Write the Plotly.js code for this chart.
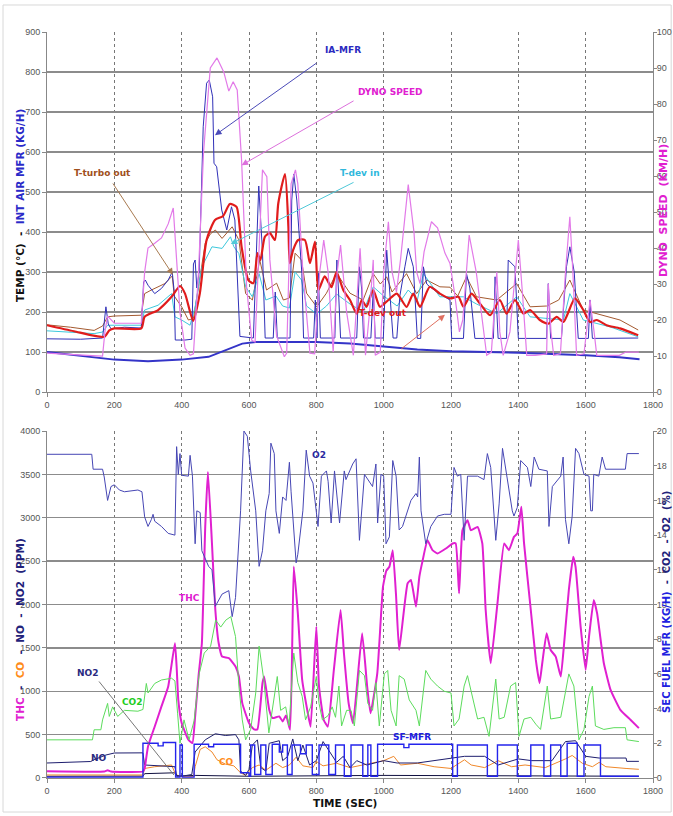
<!DOCTYPE html>
<html>
<head>
<meta charset="utf-8">
<script src="https://cdn.plot.ly/plotly-3.0.1.min.js"></script>
<style>
  html, body { margin: 0; padding: 0; background: #ffffff; }
  #chart { width: 673px; height: 816px; }
</style>
</head>
<body>
<div id="chart"></div>
<script>
// ---------- Upper panel: temperatures, intake air mass flow, dyno speed ----------
const tIAMFR = [0,100,165,170,175,182,190,230,280,287,292,300,320,340,360,372,378,381,410,430,435,440,445,452,464,474,482,492,496,504,519,534,548,558,568,573,613,620,629,640,648,672,678,684,722,727,733,742,757,762,792,797,802,806,812,855,861,866,872,920,928,935,940,962,969,975,999,1009,1018,1028,1039,1048,1063,1073,1088,1100,1110,1118,1128,1137,1167,1197,1202,1237,1246,1256,1271,1326,1331,1340,1365,1370,1390,1400,1484,1489,1496,1528,1543,1553,1566,1578,1608,1613,1620,1700,1756];
const vIAMFR = [133,132,135,180,213,170,158,162,160,275,280,267,246,259,280,300,250,130,130,132,320,330,260,300,663,772,780,738,572,563,455,405,463,430,247,139,135,300,515,350,135,135,250,135,135,480,545,480,296,135,135,230,135,297,135,135,330,250,135,135,313,255,135,135,255,135,135,355,240,135,135,240,313,359,313,134,134,313,270,263,245,230,134,134,296,260,134,134,288,134,134,330,313,134,134,271,134,134,313,363,300,134,134,230,134,135,135];

const tDyno = [0,60,120,165,172,180,190,200,240,280,290,300,320,340,360,375,385,395,410,425,435,450,465,485,505,525,540,553,565,578,593,608,618,628,640,653,662,682,705,712,725,738,745,760,781,795,810,822,835,850,862,872,890,910,922,930,940,946,958,969,975,990,1000,1014,1025,1038,1050,1073,1090,1098,1108,1120,1142,1160,1182,1197,1210,1225,1235,1254,1275,1300,1306,1320,1336,1345,1355,1375,1390,1400,1412,1425,1450,1484,1489,1497,1505,1525,1540,1553,1562,1573,1595,1613,1625,1633,1700,1720,1758];
const vDyno = [10.8,10.6,10.2,10.0,16.7,21.1,20.0,19.1,19.1,19.1,33.3,40.0,41.3,42.8,46.7,51.1,36.7,22.2,12.2,10.2,10.6,33.3,66.7,90.0,92.8,88.9,83.6,86.2,83.9,64.4,29.2,14.4,13.9,36.7,61.7,59.8,36.7,15.6,9.8,10.8,57.8,61.7,57.8,33.3,10.8,10.6,33.3,42.2,33.3,11.1,33.3,40.8,22.2,10.2,27.8,39.9,22.2,10.2,22.2,36.7,10.2,11.1,33.3,47.3,33.3,27.8,36.7,57.6,44.4,33.3,30.1,38.9,47.3,45.6,38.6,35.7,27.8,16.7,20.0,43.6,33.3,13.3,10.2,11.1,33.3,16.7,10.2,16.7,33.3,42.2,27.8,10.2,10.2,10.6,30.1,16.7,10.2,10.6,33.3,48.7,33.3,10.2,10.6,25.6,16.7,10.2,10.2,11.1,11.1];

const tTurbo = [0,70,140,165,180,200,280,290,310,350,372,378,390,400,420,435,450,470,485,500,520,540,550,570,590,610,632,652,682,702,720,737,756,771,801,830,860,900,939,969,990,1009,1025,1068,1098,1128,1167,1197,1220,1246,1276,1336,1365,1395,1435,1484,1520,1553,1593,1633,1702,1756];
const vTurbo = [168,162,154,165,188,190,192,246,255,271,290,240,225,213,180,184,263,372,395,405,384,405,413,380,246,230,330,255,272,230,235,347,330,247,213,247,297,247,230,296,270,288,250,296,246,280,263,262,240,288,238,230,250,271,213,215,230,280,205,196,180,155];

const tDevIn = [0,70,140,165,180,200,280,290,330,370,380,400,425,440,460,490,520,545,555,570,590,610,630,650,680,700,720,737,756,771,801,830,860,900,939,969,1000,1040,1073,1100,1118,1140,1167,1237,1276,1336,1395,1435,1534,1553,1593,1672,1756];
const vDevIn = [153,150,146,150,167,167,167,205,217,246,188,180,167,213,313,363,359,388,363,346,263,238,296,230,240,215,210,300,280,215,195,215,245,220,200,263,240,215,255,230,296,270,238,238,220,196,238,188,180,246,180,163,138];

const tDevOut = [0,80,170,185,200,280,290,330,370,395,410,434,454,474,499,523,543,563,578,598,613,625,634,647,662,677,687,707,717,721,731,746,766,781,796,806,825,845,860,880,900,920,935,949,969,989,1014,1039,1068,1088,1108,1137,1167,1197,1222,1237,1261,1286,1316,1345,1365,1390,1415,1435,1464,1489,1514,1534,1568,1593,1613,1633,1662,1702,1756];
const vDevOut = [167,152,138,154,159,159,188,205,238,265,246,178,247,380,430,440,470,463,363,280,272,347,330,388,397,380,472,545,413,322,355,380,380,322,376,255,289,262,300,255,230,196,230,213,255,213,230,246,213,246,213,263,246,234,238,213,246,221,192,230,196,230,196,205,180,171,188,175,234,205,175,180,167,159,142];

const tIntake = [0,100,200,300,400,480,530,580,620,800,900,1000,1100,1200,1400,1600,1700,1760];
const vIntake = [100,90,81,77,81,88,104,121,125,125,121,113,106,102,98,92,87,82];

// ---------- Lower panel: emissions and secondary fuel ----------
const tO2 = [0,133,137,165,170,180,190,200,215,230,270,282,290,300,310,315,320,340,360,380,385,390,395,400,420,425,432,440,445,455,460,470,480,490,500,520,540,550,560,575,585,595,605,620,630,640,650,660,665,675,680,690,700,710,720,725,735,740,745,760,770,780,790,800,805,815,830,835,844,854,869,883,888,908,918,928,943,967,977,982,992,1000,1007,1017,1027,1037,1046,1056,1081,1096,1101,1106,1111,1125,1140,1160,1180,1200,1209,1219,1229,1239,1249,1279,1298,1308,1318,1333,1343,1353,1363,1382,1387,1397,1407,1427,1437,1447,1461,1486,1491,1501,1526,1533,1540,1550,1560,1570,1580,1595,1610,1615,1620,1624,1639,1649,1659,1718,1723,1758];
const vO2 = [18.66,18.66,17.8,17.8,17.35,16.0,16.8,16.9,16.6,16.5,16.6,16.5,15.05,14.5,14.9,15.2,14.8,14.5,14.1,14.0,19.1,17.5,18.7,17.45,17.4,18.6,17.4,13.5,15.4,15.3,13.1,12.6,12.2,12.0,9.9,10.6,10.8,9.3,10.4,15.4,20.0,19.7,17.7,15.4,12.2,13.1,15.4,16.4,19.3,18.7,15.4,14.1,16.2,16.0,18.2,16.5,13.5,12.4,12.9,15.4,18.9,17.4,17.0,15.4,14.5,17.4,17.7,17.1,14.7,17.7,14.7,17.7,17.2,18.1,18.4,13.7,17.5,16.8,18.1,14.7,17.5,17.4,13.5,13.9,18.3,17.4,14.3,14.5,16.0,16.4,16.2,18.5,15.4,13.5,14.5,15.1,15.2,15.2,17.9,17.4,17.5,13.7,17.4,17.4,17.2,18.7,17.9,13.7,15.8,19.0,17.7,15.4,15.1,15.6,18.3,17.9,16.8,18.5,17.8,17.7,14.5,16.8,17.4,18.5,14.9,13.5,15.1,19.0,18.7,17.5,17.4,15.4,15.4,17.5,17.4,18.5,17.8,17.8,18.7,18.7];

const tCO2 = [0,135,140,160,165,180,185,195,210,230,270,285,295,300,320,340,370,380,388,395,407,422,437,452,467,486,501,516,531,546,560,570,580,590,605,620,630,644,659,669,684,694,709,719,733,745,758,768,783,800,808,818,835,847,857,867,875,890,903,913,928,943,953,967,977,987,1002,1012,1022,1037,1046,1061,1076,1096,1106,1125,1140,1160,1180,1200,1209,1224,1239,1249,1264,1279,1298,1313,1333,1343,1358,1377,1392,1402,1417,1437,1452,1466,1486,1496,1526,1540,1550,1565,1580,1595,1610,1620,1629,1654,1684,1718,1723,1758];
const vCO2 = [2.2,2.2,2.78,2.78,3.35,4.3,3.55,4.1,3.55,3.9,3.85,3.95,5.45,4.9,5.45,5.65,5.75,5.6,3.7,2.0,3.35,2.2,3.3,6.0,7.2,7.6,9.1,8.7,9.1,9.3,8.15,5.3,3.35,2.2,2.8,4.9,7.6,5.65,2.6,3.9,5.85,3.9,4.1,3.0,7.2,5.5,4.7,3.35,4.1,5.85,4.3,3.35,3.6,4.1,3.5,5.3,3.0,3.9,3.9,3.0,6.2,5.9,4.3,3.9,5.5,3.0,6.0,6.2,3.9,3.0,5.9,5.7,4.5,3.9,3.0,6.2,5.7,5.3,5.0,4.9,3.0,3.4,5.3,5.9,4.7,3.4,3.5,2.4,5.7,3.4,3.5,5.3,5.5,2.4,3.4,3.5,3.1,2.8,5.3,3.4,3.5,5.1,6.0,5.3,2.2,2.8,4.7,5.3,3.0,2.8,2.9,2.9,2.2,2.1];

const tTHC = [0,170,180,190,285,290,300,320,340,360,380,385,390,400,420,432,440,450,460,470,478,490,500,510,520,540,560,570,580,600,615,625,640,645,660,670,690,700,710,722,733,745,758,773,783,800,808,822,834,852,872,882,896,909,936,951,961,981,998,1008,1017,1027,1037,1046,1071,1081,1096,1106,1116,1130,1145,1160,1185,1205,1214,1224,1234,1249,1259,1279,1293,1303,1318,1338,1358,1372,1387,1397,1409,1417,1437,1452,1463,1471,1484,1496,1511,1526,1536,1550,1563,1570,1585,1600,1610,1624,1634,1654,1674,1703,1733,1758];
const vTHC = [77,75,90,75,75,110,364,594,825,1055,1553,1285,901,633,441,403,709,1170,1553,2895,3528,2704,1937,1553,1400,1381,1285,1170,863,633,560,560,1093,1170,786,690,710,652,720,556,2437,1900,1130,784,592,1745,1053,669,592,1245,1937,1438,861,631,1668,1053,746,1207,2205,2390,2435,2627,2090,1476,2243,2282,1975,2320,2512,2742,2627,2589,2646,2704,2704,2128,2857,2972,2857,2895,2704,1937,1323,2013,2704,2627,2780,2819,3126,2704,1937,1361,1093,1323,1668,1476,1400,1170,1553,2167,2550,2435,1745,1246,1630,2052,1898,1323,1016,786,671,575];

const tSFMFR = [0,285,330,345,382,395,402,437,480,495,575,600,605,617,635,650,669,690,700,714,728,753,770,788,808,837,857,883,903,938,953,962,982,1060,1075,1205,1219,1308,1338,1397,1437,1476,1496,1526,1545,1575,1595,1644,1758];
const vSFMFR = [0.05,2.0,1.85,2.05,0.05,1.9,0.05,1.95,1.8,1.95,0.3,0.1,1.9,0.2,1.9,0.2,1.95,1.5,1.9,0.2,1.9,1.4,1.9,0.2,1.9,0.2,1.9,0.1,1.9,0.1,1.9,0.1,1.95,1.75,1.95,0.1,1.9,0.1,1.9,0.1,1.9,0.1,1.9,0.1,2.0,0.1,1.9,0.1,0.1];

const tNO = [0,130,140,175,200,285,290,380,385,400,430,440,470,500,530,560,570,575,590,600,610,625,635,650,660,690,700,715,730,745,760,780,800,820,840,860,880,900,920,950,1000,1040,1100,1150,1200,1240,1300,1340,1400,1440,1500,1540,1570,1600,1640,1720,1722,1758];
const vNO = [173,190,211,265,288,290,150,130,30,20,40,300,440,510,490,500,440,80,30,100,380,440,120,80,400,430,200,250,450,200,380,150,200,420,300,180,250,120,200,150,200,173,173,200,230,250,250,150,220,200,200,420,430,250,230,230,192,192];

const tNO2 = [0,285,290,380,385,440,600,1000,1400,1758];
const vNO2 = [20,22,50,60,20,30,20,30,25,20];

const tCO = [0,285,290,320,370,382,400,435,440,455,470,490,505,530,555,575,590,610,630,650,680,700,720,740,760,790,800,820,860,900,950,1000,1030,1050,1100,1150,1200,1240,1260,1300,1340,1380,1420,1480,1540,1560,1590,1620,1640,1660,1720,1758];
const vCO = [35,35,110,130,150,40,15,15,130,330,360,300,210,160,140,60,30,120,150,90,170,120,150,240,140,120,190,140,170,120,160,200,250,150,170,130,110,210,150,120,200,130,150,120,220,260,170,130,180,130,110,100];

const xTicks = [0,200,400,600,800,1000,1200,1400,1600,1800];

// ---------- shared styling ----------
const tickFont = {family: 'Liberation Sans, Arial, sans-serif', size: 9, color: '#555'};
const labelFamily = 'DejaVu Sans, Verdana, sans-serif';

function line(x, y, color, width, xa, ya, extra) {
  return Object.assign({
    x: x, y: y, type: 'scatter', mode: 'lines',
    line: {color: color, width: width},
    xaxis: xa, yaxis: ya, showlegend: false, hoverinfo: 'skip'
  }, extra || {});
}

const traces = [
  // upper panel
  line(tIntake, vIntake, '#3434c8', 2, 'x', 'y'),
  line(tDyno, vDyno, '#e27ae8', 1.2, 'x', 'y2'),
  line(tTurbo, vTurbo, '#a45a30', 1, 'x', 'y'),
  line(tDevIn, vDevIn, '#3cc8dc', 1, 'x', 'y'),
  line(tIAMFR, vIAMFR, '#3030b8', 1, 'x', 'y'),
  line(tDevOut, vDevOut, '#e01c1c', 2.2, 'x', 'y', {line: {color: '#e01c1c', width: 2.2, shape: 'spline', smoothing: 0.6}}),
  // lower panel
  line(tO2, vO2, '#4646b4', 1, 'x2', 'y4'),
  line(tCO2, vCO2, '#5cdc5c', 1, 'x2', 'y4'),
  line(tNO2, vNO2, '#101040', 1, 'x2', 'y3'),
  line(tCO, vCO, '#f0882a', 1, 'x2', 'y3'),
  line(tNO, vNO, '#1e1e6e', 1, 'x2', 'y3'),
  line(tSFMFR, vSFMFR, '#2424ec', 1.4, 'x2', 'y4', {line: {color: '#2424ec', width: 1.4, shape: 'hv'}}),
  line(tTHC, vTHC, '#e020d0', 2, 'x2', 'y3', {line: {color: '#e020d0', width: 2, shape: 'spline', smoothing: 0.4}})
];

const xAxisBase = {
  range: [0, 1800], tickvals: xTicks, ticks: 'outside', ticklen: 4, tickcolor: '#888',
  showgrid: true, gridcolor: '#777', griddash: 'dot', gridwidth: 1,
  showline: true, linecolor: '#888', linewidth: 1, zeroline: false,
  tickfont: tickFont, automargin: false, fixedrange: true
};
const yLeftBase = {
  ticks: 'outside', ticklen: 4, tickcolor: '#888',
  showgrid: true, gridcolor: '#8c8c8c', gridwidth: 1.3,
  showline: true, linecolor: '#888', linewidth: 1, zeroline: false,
  tickfont: tickFont, automargin: false, fixedrange: true
};
const yRightBase = {
  side: 'right', ticks: 'outside', ticklen: 3, tickcolor: '#888',
  ticklabelstandoff: -2,
  showgrid: false, showline: true, linecolor: '#888', linewidth: 1, zeroline: false,
  tickfont: tickFont, automargin: false, fixedrange: true
};

const topDom = [0.5174, 1];
const botDom = [0, 0.4651];

function note(text, x, y, color, xa, ya) {
  return {text: '<b>' + text + '</b>', x: x, y: y, xref: xa, yref: ya, showarrow: false,
    xanchor: 'center', yanchor: 'middle',
    font: {family: labelFamily, size: 9, color: color}};
}
function arrow(x, y, ax, ay, color, xa, ya, head) {
  return {text: '', x: x, y: y, ax: ax, ay: ay, xref: xa, yref: ya, axref: xa, ayref: ya,
    showarrow: true, arrowhead: head === undefined ? 2 : head, arrowsize: 1.3, arrowwidth: 1,
    arrowcolor: color};
}
function sideTitle(text, x, y, size, color) {
  return {text: text, xref: 'paper', yref: 'paper', x: x, y: y, textangle: -90,
    xanchor: 'center', yanchor: 'middle', showarrow: false,
    font: {family: labelFamily, size: size, color: color}};
}

const annotations = [
  // upper panel labels and pointers
  note('IA-MFR', 879, 855, '#2a2ac0', 'x', 'y'),
  arrow(499, 642, 805, 825, '#4a4ab8', 'x', 'y'),
  note('DYNO SPEED', 1019, 750, '#e020d0', 'x', 'y'),
  arrow(578, 567, 915, 730, '#dc70dc', 'x', 'y'),
  note('T-dev in', 929, 548, '#30b8dc', 'x', 'y'),
  arrow(546, 370, 915, 526, '#50c8d8', 'x', 'y'),
  note('T-turbo out', 166, 547, '#a0501c', 'x', 'y'),
  arrow(374, 293, 193, 525, '#a87a50', 'x', 'y'),
  note('T-dev out', 998, 197, '#e01c1c', 'x', 'y'),
  arrow(1182, 193, 1048, 105, '#e07060', 'x', 'y'),
  // lower panel labels
  note('O2', 807, 3723, '#2a2aa0', 'x2', 'y3'),
  note('THC', 424, 2075, '#e020d0', 'x2', 'y3'),
  note('CO2', 255, 876, '#22cc22', 'x2', 'y3'),
  note('NO2', 119, 1210, '#2a2a80', 'x2', 'y3'),
  arrow(377, 35, 151, 1130, '#777', 'x2', 'y3', 0),
  note('NO', 154, 230, '#2a2a80', 'x2', 'y3'),
  note('CO', 533, 185, '#ff8c1a', 'x2', 'y3'),
  note('SF-MFR', 1085, 473, '#2020e0', 'x2', 'y3'),
  // axis titles
  sideTitle('<b>TEMP (°C)  -  <span style="color:#2a2ac8">INT AIR MFR (KG/H)</span></b>', -0.0446, 0.768, 10.5, '#111'),
  sideTitle('<b>DYNO  SPEED  (KM/H)</b>', 1.018, 0.7614, 11, '#e020d0'),
  sideTitle('<b><span style="color:#e020d0">THC</span>  -  <span style="color:#ff8c1a">CO</span>  -  NO  -  NO2  (PPM)</b>', -0.0446, 0.1997, 10.5, '#22227a'),
  sideTitle('<b><span style="color:#2020e0">SEC FUEL MFR (KG/H)</span>  -  CO2  -  O2  (%)</b>', 1.023, 0.236, 10, '#22227a'),
  {text: '<b>TIME (SEC)</b>', xref: 'paper', yref: 'paper', x: 0.4917, y: -0.0335,
   xanchor: 'center', yanchor: 'middle',
   showarrow: false, font: {family: labelFamily, size: 10.5, color: '#111'}}
];

const layout = {
  width: 673, height: 816,
  margin: {l: 47, r: 20, t: 32, b: 38, pad: 0},
  paper_bgcolor: '#ffffff', plot_bgcolor: '#ffffff',
  showlegend: false,
  xaxis: Object.assign({}, xAxisBase, {domain: [0, 1], anchor: 'y'}),
  yaxis: Object.assign({}, yLeftBase, {domain: topDom, range: [0, 900], dtick: 100, anchor: 'x'}),
  yaxis2: Object.assign({}, yRightBase, {overlaying: 'y', range: [0, 100], dtick: 10, anchor: 'x'}),
  xaxis2: Object.assign({}, xAxisBase, {domain: [0, 1], anchor: 'y3'}),
  yaxis3: Object.assign({}, yLeftBase, {domain: botDom, range: [0, 4000], dtick: 500, anchor: 'x2'}),
  yaxis4: Object.assign({}, yRightBase, {overlaying: 'y3', range: [0, 20], dtick: 2, anchor: 'x2'}),
  annotations: annotations,
  shapes: [
    {type: 'rect', xref: 'paper', yref: 'paper', x0: -0.0726, x1: 1.03, y0: -0.0456, y1: 1.0362,
     line: {color: '#d8d8d8', width: 1}, fillcolor: 'rgba(0,0,0,0)', layer: 'below'}
  ]
};

Plotly.newPlot('chart', traces, layout, {staticPlot: true, displayModeBar: false});
</script>
</body>
</html>
